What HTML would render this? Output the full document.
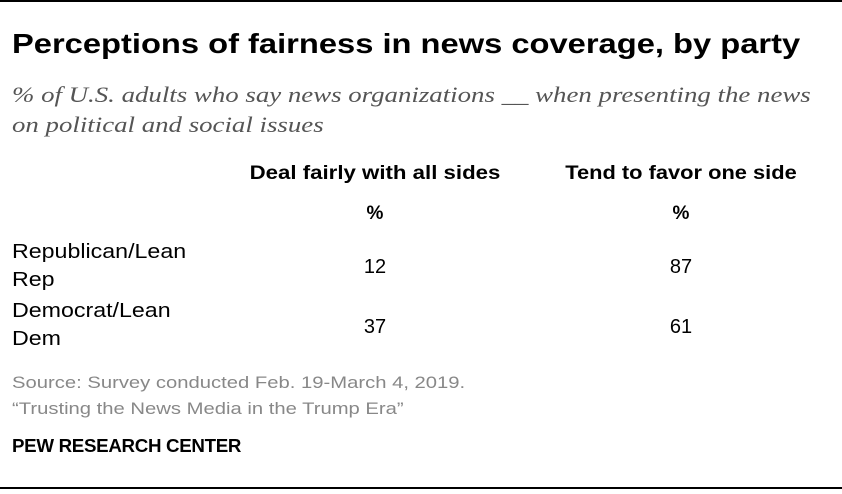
<!DOCTYPE html>
<html><head><meta charset="utf-8"><style>
body{margin:0;width:842px;height:494px;background:#fff;position:relative;overflow:hidden;font-family:"Liberation Sans",sans-serif;color:#000}
.a{position:absolute;white-space:nowrap;transform-origin:0 0}
.c{transform-origin:50% 0}
</style></head><body>
<div class="a" style="left:0;top:0;width:842px;height:2px;background:#000"></div>
<div class="a" style="left:12px;top:28px;font-size:28px;font-weight:bold;transform:scaleX(1.167)">Perceptions of fairness in news coverage, by party</div>
<div class="a" style="left:12px;top:80px;font-family:'Liberation Serif',serif;font-style:italic;font-size:22px;line-height:30px;color:#555;transform:scaleX(1.22)">% of U.S. adults who say news organizations __ when presenting the news<br>on political and social issues</div>
<div class="a c" style="left:375px;top:163px;font-size:19px;font-weight:bold;transform:translateX(-50%) scaleX(1.17)">Deal fairly with all sides</div>
<div class="a c" style="left:681px;top:163px;font-size:19px;font-weight:bold;transform:translateX(-50%) scaleX(1.15)">Tend to favor one side</div>
<div class="a c" style="left:375px;top:203px;font-size:19px;font-weight:bold;transform:translateX(-50%)">%</div>
<div class="a c" style="left:681px;top:203px;font-size:19px;font-weight:bold;transform:translateX(-50%)">%</div>
<div class="a" style="left:12px;top:238px;font-size:20px;line-height:28px;transform:scaleX(1.16)">Republican/Lean<br>Rep</div>
<div class="a c" style="left:375px;top:253px;font-size:20px;line-height:28px;transform:translateX(-50%)">12</div>
<div class="a c" style="left:681px;top:253px;font-size:20px;line-height:28px;transform:translateX(-50%)">87</div>
<div class="a" style="left:12px;top:297px;font-size:20px;line-height:28px;transform:scaleX(1.16)">Democrat/Lean<br>Dem</div>
<div class="a c" style="left:375px;top:313px;font-size:20px;line-height:28px;transform:translateX(-50%)">37</div>
<div class="a c" style="left:681px;top:313px;font-size:20px;line-height:28px;transform:translateX(-50%)">61</div>
<div class="a" style="left:12px;top:370px;font-size:17px;line-height:26px;color:#888;transform:scaleX(1.19)">Source: Survey conducted Feb. 19-March 4, 2019.<br>“Trusting the News Media in the Trump Era”</div>
<div class="a" style="left:12px;top:436px;font-size:18px;font-weight:bold;letter-spacing:-0.3px;transform:scaleX(1.04)">PEW RESEARCH CENTER</div>
<div class="a" style="left:0;top:487px;width:842px;height:2px;background:#000"></div>
</body></html>
